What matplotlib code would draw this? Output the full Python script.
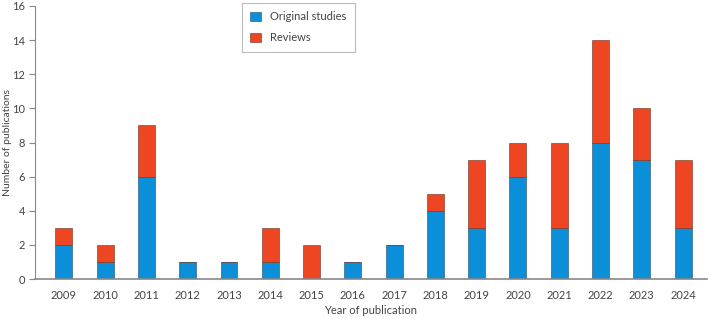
import matplotlib
matplotlib.use("Agg")
import matplotlib.pyplot as plt
import numpy as np

plt.rcParams['font.family'] = ['Lato', 'DejaVu Sans']

years = [str(y) for y in range(2009, 2025)]
original = [2, 1, 6, 1, 1, 1, 0, 1, 2, 4, 3, 6, 3, 8, 7, 3]
reviews = [1, 1, 3, 0, 0, 2, 2, 0, 0, 1, 4, 2, 5, 6, 3, 4]

blue = '#0a8fd8'
red = '#ee4523'
grey = '#444444'

fig = plt.figure(figsize=(7.09, 3.19), dpi=100)
ax = fig.add_axes([35/709, 1 - 279/319, 672/709, 273/319])

x = np.arange(len(years))
ax.bar(x, original, width=0.41, color=blue, edgecolor='#2a4a66', linewidth=0.4, label='Original studies')
ax.bar(x, reviews, width=0.41, bottom=original, color=red, edgecolor='#6a3020', linewidth=0.4, label='Reviews')

ax.set_xlim(-0.7, len(years) - 1 + 0.58)
ax.set_ylim(0, 16)
ax.set_yticks(range(0, 17, 2))
ax.set_xticks(x)
ax.set_xticklabels(years)
ax.tick_params(axis='x', length=0, pad=8, labelsize=8, labelcolor=grey)
ax.tick_params(axis='y', length=4, width=0.8, color='#888888', labelsize=8, labelcolor=grey, pad=3)

for s in ['top', 'right']:
    ax.spines[s].set_visible(False)
ax.spines['left'].set_color('#888888')
ax.spines['bottom'].set_color('#888888')
ax.spines['left'].set_linewidth(0.8)
ax.spines['bottom'].set_linewidth(1.2)

ax.set_ylabel('Number of publications', fontsize=7.5, color=grey)
ax.yaxis.set_label_coords(-0.034, 0.5)
ax.set_xlabel('Year of publication', fontsize=8, color=grey, labelpad=3)

leg = ax.legend(loc='upper left', bbox_to_anchor=(0.308, 1.011), borderaxespad=0,
                frameon=True, fancybox=False, edgecolor='#aaaaaa', fontsize=8,
                handlelength=1.0, handleheight=1.0, borderpad=0.75,
                labelspacing=0.9, handletextpad=0.8)
leg.get_frame().set_linewidth(0.8)
for t in leg.get_texts():
    t.set_color(grey)

fig.savefig('out.png', dpi=100)
